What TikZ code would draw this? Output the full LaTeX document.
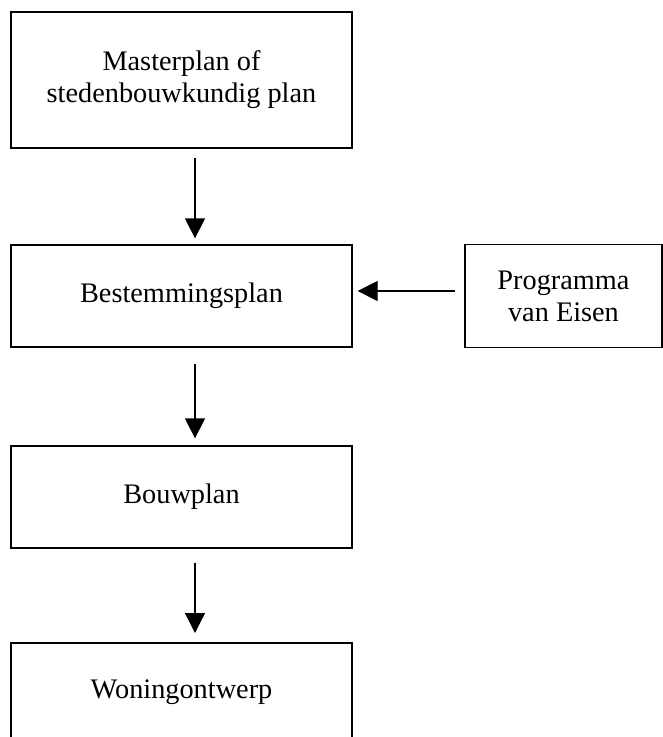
\documentclass[tikz,border=0pt]{standalone}
\usepackage{fontspec}
\setmainfont{Liberation Serif}
\usetikzlibrary{arrows.meta}
\begin{document}
\begin{tikzpicture}[x=1pt, y=-1pt, line width=1.3pt,
  blok/.style={draw, minimum width=341pt, align=center, inner sep=0pt,
    font=\fontsize{28.3}{32}\selectfont},
  pijl/.style={-{Triangle[width=20pt,length=20pt]}}]
\useasboundingbox (0,0) rectangle (663,737);

% Blokken
\node[blok, minimum height=136pt] (master) at (181.5,80) {Masterplan of\\stedenbouwkundig plan};
\node[blok, minimum height=102pt] (bestemming) at (181.5,296) {Bestemmingsplan};
\node[blok, minimum width=197pt, minimum height=103pt] (pve) at (563.5,296) {Programma\\van Eisen};
\node[blok, minimum height=102pt] (bouwplan) at (181.5,497) {Bouwplan};
\node[font=\fontsize{28.3}{32}\selectfont, inner sep=0pt] (woning) at (181.5,692) {Woningontwerp};

% Open onderste blok
\coordinate (woningtop) at (195,643);
\draw (11,737) -- (11,643) -- (352,643) -- (352,737);

% Pijlen
\draw[pijl, shorten <=9pt, shorten >=6pt] ([xshift=13.5pt]master.south) -- ([xshift=13.5pt]bestemming.north);
\draw[pijl, shorten <=16pt, shorten >=7pt] ([xshift=13.5pt]bestemming.south) -- ([xshift=13.5pt]bouwplan.north);
\draw[pijl, shorten <=14pt, shorten >=10pt] ([xshift=13.5pt]bouwplan.south) -- (woningtop);
\draw[pijl, shorten <=9pt, shorten >=5pt] ([yshift=5pt]pve.west) -- ([yshift=5pt]bestemming.east);
\end{tikzpicture}
\end{document}
